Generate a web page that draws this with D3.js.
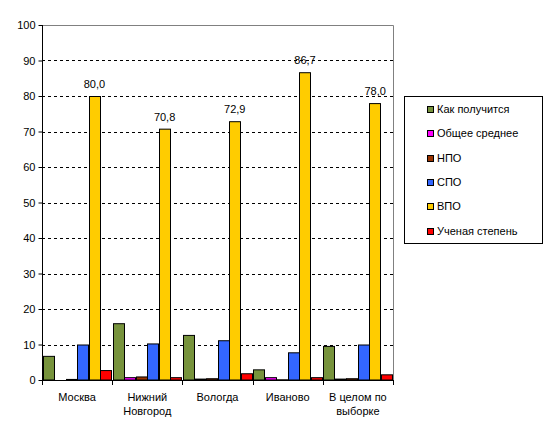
<!DOCTYPE html>
<html><head><meta charset="utf-8">
<script src="https://cdn.jsdelivr.net/npm/d3@7"></script>
<style>body{margin:0;background:#fff}svg{display:block}text{font-family:"Liberation Sans",Arial,sans-serif;font-size:11px;fill:#000}</style>
</head><body><svg id="c" width="550" height="427"></svg>
<script>
const categories = [["Москва"], ["Нижний","Новгород"], ["Вологда"], ["Иваново"], ["В целом по","выборке"]];
const seriesNames = ["Как получится","Общее среднее","НПО","СПО","ВПО","Ученая степень"];
const seriesColors = ["#77933C","#FF00FF","#993300","#3366FF","#FFCC00","#FF0000"];
const kakPoluchitsya = [6.8, 16.0, 12.7, 3.0, 9.6];
const obshcheeSrednee = [0.0, 0.8, 0.4, 0.8, 0.4];
const npo = [0.3, 1.0, 0.5, 0.2, 0.5];
const spo = [10.0, 10.3, 11.2, 7.8, 10.0];
const vpo = [80.0, 70.8, 72.9, 86.7, 78.0];
const uchenayaStepen = [2.8, 0.8, 1.9, 0.8, 1.6];
const yTicks = [0,10,20,30,40,50,60,70,80,90,100];

const series = [kakPoluchitsya, obshcheeSrednee, npo, spo, vpo, uchenayaStepen];
const svg = d3.select("#c");
const L = 42, R = 393, T = 25, B = 380;
const x0 = d3.scaleBand().domain(d3.range(categories.length)).range([L, R]).paddingInner(0).paddingOuter(0);
const x1 = d3.scaleBand().domain(d3.range(series.length)).range([0, x0.bandwidth()]).paddingInner(0).paddingOuter(0.045);
const y = d3.scaleLinear().domain([0,100]).range([B, T]);

// grid
svg.append("g").selectAll("line").data(yTicks.filter(t => t > 0 && t < 100)).join("line")
  .attr("x1", L).attr("x2", R).attr("y1", d => Math.round(y(d)) + 0.5).attr("y2", d => Math.round(y(d)) + 0.5)
  .attr("stroke", "#000").attr("stroke-dasharray", "3,3");
// frame top/right
svg.append("path").attr("d", `M${L},${T+0.5}H${R+0.5}V${B}`).attr("fill","none").attr("stroke","#808080");

// bars
const g = svg.append("g");
categories.forEach((c, i) => {
  series.forEach((s, j) => {
    const v = s[i];
    if (v <= 0) return;
    const bx = Math.round(x0(i) + x1(j));
    const bw = Math.round(x1.bandwidth());
    const top = y(v);
    g.append("rect").attr("x", bx + 0.5).attr("y", top + 0.5).attr("width", bw - 1)
      .attr("height", Math.max(0, B - top - 0.5)).attr("fill", seriesColors[j]).attr("stroke", "#000").attr("stroke-width", 1);
  });
  // data label on ВПО
  const lx = x0(i) + x1(4) + x1.bandwidth() / 2;
  svg.append("text").attr("x", lx).attr("y", y(vpo[i]) - 8).attr("text-anchor", "middle")
    .text(d3.format(".1f")(vpo[i]).replace(".", ","));
});

// y axis
const ya = svg.append("g").attr("transform", `translate(${L + 0.5},0)`)
  .call(d3.axisLeft(y).tickValues(yTicks).tickSize(4).tickPadding(3).tickFormat(d3.format("d")));
ya.select(".domain").attr("stroke", "#000").attr("d", `M0,${T}V${B}`);
ya.selectAll(".tick line").attr("stroke", "#000");
ya.selectAll(".tick text").attr("font-size", null).attr("font-family", null).attr("fill", "#000").attr("dy", "0.35em");
ya.attr("font-size", null).attr("font-family", null);

// x axis
svg.append("line").attr("x1", L).attr("x2", R + 1).attr("y1", B + 0.5).attr("y2", B + 0.5).attr("stroke", "#000");
d3.range(categories.length + 1).forEach(i => {
  const xx = Math.round(L + i * x0.bandwidth()) + 0.5;
  svg.append("line").attr("x1", xx).attr("x2", xx).attr("y1", B).attr("y2", B + 5).attr("stroke", "#000");
});
categories.forEach((c, i) => {
  const t = svg.append("text").attr("x", x0(i) + x0.bandwidth() / 2).attr("y", 401).attr("text-anchor", "middle");
  c.forEach((line, k) => t.append("tspan").attr("x", x0(i) + x0.bandwidth() / 2).attr("dy", k ? 14 : 0).text(line));
});

// legend
svg.append("rect").attr("x", 404.5).attr("y", 96.5).attr("width", 138).attr("height", 147).attr("fill", "#fff").attr("stroke", "#000");
seriesNames.forEach((n, j) => {
  const cy = 109 + j * 24.3;
  svg.append("rect").attr("x", 427.5).attr("y", Math.round(cy - 3) + 0.5).attr("width", 6).attr("height", 6)
    .attr("fill", seriesColors[j]).attr("stroke", "#000");
  svg.append("text").attr("x", 437).attr("y", cy + 4).text(n);
});
</script></body></html>
